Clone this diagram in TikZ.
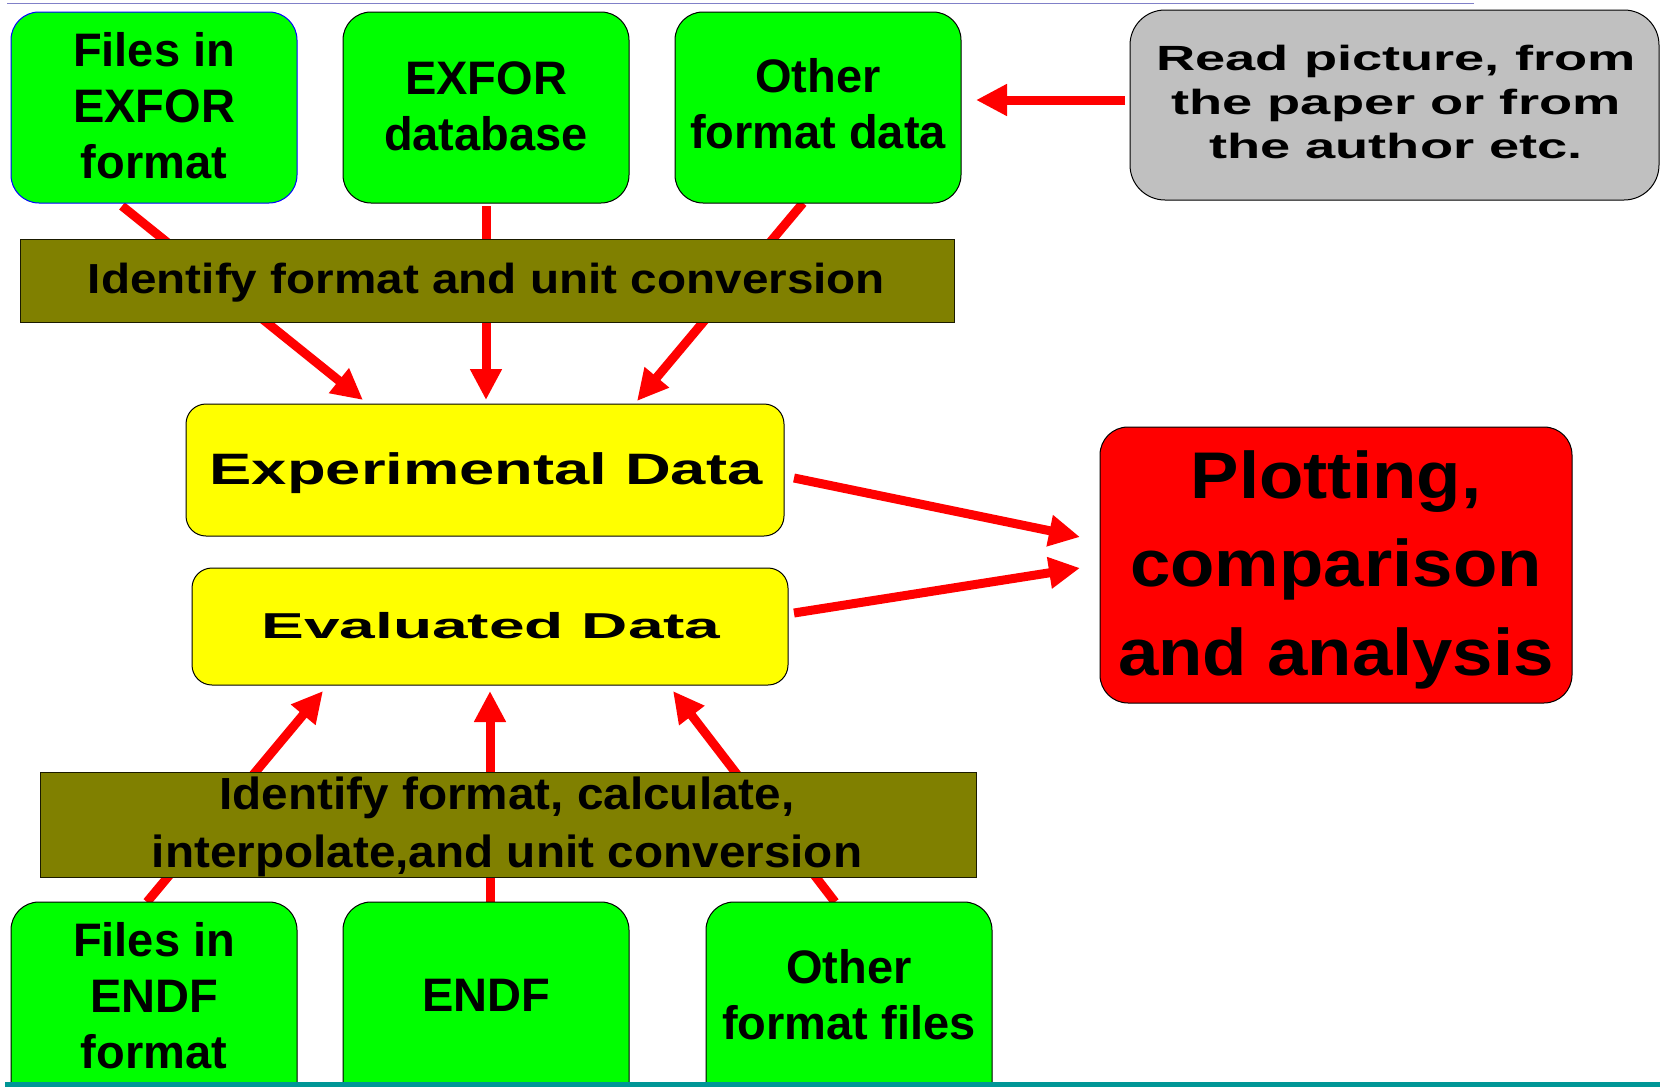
\documentclass[tikz,border=0pt]{standalone}
\usepackage{fontspec}
\usetikzlibrary{arrows.meta}
\setmainfont{Liberation Sans}
% widened cuts of the same face for the stretched labels
\newfontfamily\fgray{Liberation Sans}[FakeStretch=1.55]
\newfontfamily\fbarA{Liberation Sans}[FakeStretch=1.135]
\newfontfamily\fbarB{Liberation Sans}[FakeStretch=1.06]
\newfontfamily\fexp{Liberation Sans}[FakeStretch=1.44]
\newfontfamily\feval{Liberation Sans}[FakeStretch=1.78]
\newfontfamily\fplot{Liberation Sans}[FakeStretch=1.1]
\definecolor{boxgreen}{RGB}{0,255,0}
\definecolor{boxyellow}{RGB}{255,255,0}
\definecolor{boxred}{RGB}{255,0,0}
\definecolor{boxolive}{RGB}{128,128,0}
\definecolor{boxgray}{RGB}{192,192,192}
\definecolor{ruleblue}{RGB}{128,128,200}
\definecolor{ruleteal}{RGB}{0,150,150}
\tikzset{
  box/.style={draw=black, line width=1pt, inner sep=0pt, rounded corners=28pt},
  greenbox/.style={box, fill=boxgreen},
  yellowbox/.style={box, fill=boxyellow, rounded corners=20pt},
  olivebar/.style={draw=black!80!boxolive, line width=1pt, fill=boxolive, inner sep=0pt},
  % labels are placed by the baseline of their last line
  lbl/.style={anchor=base, align=center, inner sep=0pt, text=black},
  greentext/.style={lbl, font=\bfseries\fontsize{47}{56}\selectfont},
  arr/.style={draw=boxred, line width=9pt, -{Triangle[length=31pt,width=30pt]}},
}
\begin{document}
\begin{tikzpicture}[x=1pt, y=-1pt]
\clip (0,0) rectangle (1660,1087);
\fill[white] (0,0) rectangle (1660,1087);

% rule along the top
\draw[ruleblue, line width=1.5pt] (7,3.5) -- (1474,3.5);

% arrow end points
\coordinate (a1s) at (122,206);  \coordinate (a1e) at (363,400);
\coordinate (a2s) at (486,206);  \coordinate (a2e) at (486,400);
\coordinate (a3s) at (803,203);  \coordinate (a3e) at (637,401);
\coordinate (a4s) at (794,478);  \coordinate (a4e) at (1080,537);
\coordinate (a5s) at (794,613);  \coordinate (a5e) at (1080,568);
\coordinate (a6s) at (147,902);  \coordinate (a6e) at (323,691);
\coordinate (a7s) at (490,902);  \coordinate (a7e) at (490,691);
\coordinate (a8s) at (835,902);  \coordinate (a8e) at (673,691);
\coordinate (ags) at (1125,100); \coordinate (age) at (976,100);

% arrows (drawn first so the bars cover them)
\draw[arr] (a1s) -- (a1e);
\draw[arr] (a2s) -- (a2e);
\draw[arr] (a3s) -- (a3e);
\draw[arr] (a4s) -- (a4e);
\draw[arr] (a5s) -- (a5e);
\draw[arr] (a6s) -- (a6e);
\draw[arr] (a7s) -- (a7e);
\draw[arr] (a8s) -- (a8e);
\draw[arr] (ags) -- (age);

% upper source boxes
\node[greenbox, draw=blue, minimum width=286pt, minimum height=191pt] (srcA) at (154,107.5) {};
\node[greenbox, minimum width=286pt, minimum height=191pt] (srcB) at (486,107.5) {};
\node[greenbox, minimum width=286pt, minimum height=191pt] (srcC) at (818,107.5) {};
\node[greentext] (srcAt) at (154,178) {Files in\\EXFOR\\format};
\node[greentext] (srcBt) at (486,150) {EXFOR\\database};
\node[greentext] (srcCt) at (818,148) {Other\\format data};

% digitised input
\node[box, fill=boxgray, rounded corners=35pt, minimum width=529pt, minimum height=190pt] (read) at (1394.5,105) {};
\node[lbl, font=\fgray\bfseries\fontsize{35}{44}\selectfont] (readt) at (1396,158)
  {Read picture, from\\the paper or from\\the author etc.};

% upper conversion bar
\node[olivebar, minimum width=934pt, minimum height=83pt] (convA) at (487,280.5) {};
\node[lbl, font=\fbarA\bfseries\fontsize{42}{50}\selectfont] (convAt) at (486.5,293)
  {Identify format and unit conversion};

% data collections
\node[yellowbox, minimum width=598pt, minimum height=132pt] (exp) at (485,470) {};
\node[lbl, font=\fexp\bfseries\fontsize{44}{52}\selectfont] (expt) at (486,484) {Experimental Data};
\node[yellowbox, minimum width=596pt, minimum height=117pt] (eval) at (490,626.5) {};
\node[lbl, font=\feval\bfseries\fontsize{36}{44}\selectfont] (evalt) at (491,638) {Evaluated Data};

% result
\node[box, fill=boxred, minimum width=472pt, minimum height=276pt] (plot) at (1336,565) {};
\node[lbl, font=\fplot\bfseries\fontsize{66}{88.5}\selectfont] (plott) at (1336,675)
  {Plotting,\\comparison\\and analysis};

% lower conversion bar
\node[olivebar, minimum width=936pt, minimum height=105pt] (convB) at (508,824.5) {};
\node[lbl, font=\fbarB\bfseries\fontsize{45}{58}\selectfont] (convBt) at (507,867)
  {Identify format, calculate,\\interpolate,and unit conversion};

% lower source boxes
\node[greenbox, minimum width=286pt, minimum height=208pt] (libA) at (154,1006) {};
\node[greenbox, minimum width=286pt, minimum height=208pt] (libB) at (486,1006) {};
\node[greenbox, minimum width=286pt, minimum height=208pt] (libC) at (849,1006) {};
\node[greentext] (libAt) at (154,1068) {Files in\\ENDF\\format};
\node[greentext] (libBt) at (486,1011) {ENDF};
\node[greentext] (libCt) at (849,1039) {Other\\format files};

% rule along the bottom
\draw[ruleteal, line width=4.5pt] (5,1084.5) -- (1660,1084.5);
\end{tikzpicture}
\end{document}
